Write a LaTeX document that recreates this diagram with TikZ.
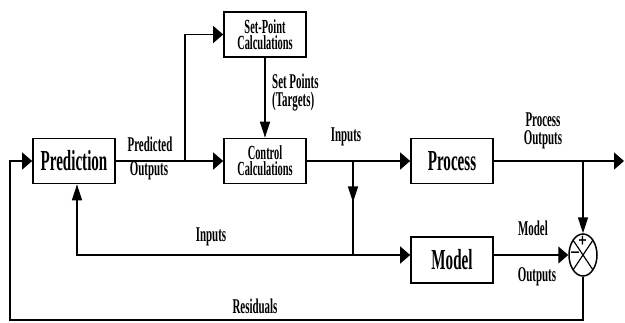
\documentclass[tikz,border=0pt]{standalone}
\usepackage{fontspec}
\setmainfont{Liberation Serif}[FakeStretch=0.52]
\newfontfamily\signfont{Liberation Serif}[FakeStretch=0.8, FakeBold=1.5]
\usetikzlibrary{arrows.meta,decorations.markings,shapes.geometric,calc}

\tikzset{
  block/.style={draw, line width=1.7pt, minimum width=82pt, minimum height=45pt,
    inner sep=0pt, align=center, font=\fontsize{20}{16}\selectfont\bfseries},
  bigblock/.style={block, font=\fontsize{29}{30}\selectfont\bfseries},
  lbl/.style={inner sep=0pt, align=center, font=\fontsize{21}{18}\selectfont\bfseries},
  sign/.style={inner sep=0pt, font=\signfont\fontsize{18}{18}\selectfont\bfseries},
  wire/.style={line width=1.5pt},
  harrow/.style={-{Triangle[length=10pt,width=17pt]}},
  varrow/.style={-{Triangle[length=16pt,width=10pt]}},
  downmark/.style={postaction={decorate}, decoration={markings,
    mark=at position #1 with {\arrow{Triangle[length=16pt,width=10pt]}}}},
}

\begin{document}
\begin{tikzpicture}[x=1pt, y=-1pt]
\useasboundingbox (0,0) rectangle (625,322);

% blocks
\node[bigblock] (pred)  at (74,161)   {Prediction};
\node[block]    (sp)    at (265,34.5) {Set-Point\\Calculations};
\node[block]    (ctrl)  at (265,161)  {Control\\Calculations};
\node[bigblock] (proc)  at (452,161)  {Process};
\node[bigblock, minimum height=46pt] (model) at (452,260) {Model};

% summing junction with its crossed diagonals
\node[draw, ellipse, line width=1.5pt, minimum width=28pt, minimum height=42pt,
      inner sep=0pt] (sum) at (583,255) {};
\draw[line width=1.2pt] ($(sum.center)+(-9.9,-14.8)$) -- ($(sum.center)+(9.9,14.8)$)
  ($(sum.center)+(9.9,-14.8)$) -- ($(sum.center)+(-9.9,14.8)$);
\node[sign] (plus)  at (582.5,241) {+};
\node[sign] (minus) at (575,254) {\textendash};

% junctions and corners
\coordinate (j1)  at (185,161);
\coordinate (j2)  at (353,161);
\coordinate (mj)  at (353,255);
\coordinate (j3)  at (583,161);
\coordinate (out) at (624,161);
\coordinate (fbl) at (10,320);

% connectors
\draw[wire, harrow] (pred.east) -- (ctrl.west);
\draw[wire, harrow] (j1) |- (sp.west);
\draw[wire, varrow] (sp.south) -- (ctrl.north);
\draw[wire, harrow] (ctrl.east) -- (proc.west);
\draw[wire, downmark=0.44] (j2) -- (mj);
\draw[wire, harrow] (proc.east) -- (out);
\draw[wire, varrow] (j3) -- (sum.north);
\draw[wire, harrow] (mj) -- (mj -| model.west);
\draw[wire, varrow] (mj) -| ([xshift=3pt]pred.south);
\draw[wire, harrow] (mj -| model.east) -- (mj -| sum.west);
\draw[wire, harrow] (sum.south) |- (fbl) |- (pred.west);

% labels
\node[lbl] (l1) at (150,144) {Predicted};
\node[lbl] (l2) at (149,171) {Outputs};
\node[lbl, anchor=west, align=left] (l3) at (272,93) {Set Points\\(Targets)};
\node[lbl] (l4) at (346,137) {Inputs};
\node[lbl] (l5) at (543,131) {Process\\Outputs};
\node[lbl] (l6) at (211,237) {Inputs};
\node[lbl] (l7) at (533,228) {Model};
\node[lbl] (l8) at (537,277) {Outputs};
\node[lbl] (l9) at (255,306) {Residuals};
\end{tikzpicture}
\end{document}
